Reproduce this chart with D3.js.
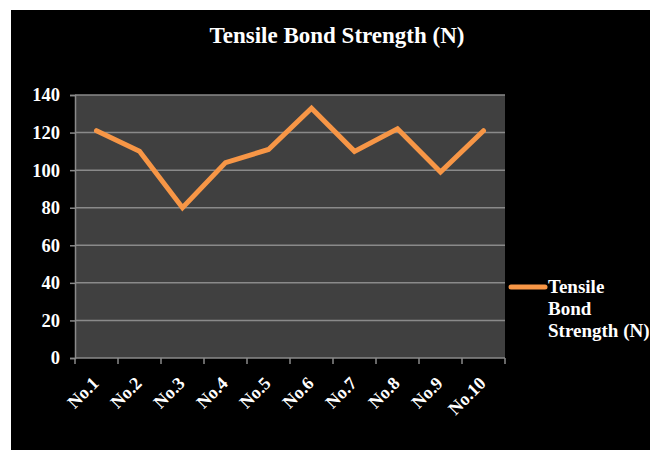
<!DOCTYPE html>
<html>
<head>
<meta charset="utf-8">
<script src="https://cdn.jsdelivr.net/npm/d3@7"></script>
<style>
    body { margin: 0; background: #ffffff; }
    text { font-family: "Liberation Serif", "Times New Roman", serif; font-weight: bold; fill: #ffffff; }
</style>
</head>
<body>
<div id="chart"></div>
<script>
// data
let categories = ["No.1", "No.2", "No.3", "No.4", "No.5", "No.6", "No.7", "No.8", "No.9", "No.10"];
let strengthValues = [121, 110, 80, 104, 111, 133, 110, 122, 99, 121];
let yTicks = [0, 20, 40, 60, 80, 100, 120, 140];
let seriesName = "Tensile Bond Strength (N)";

let margin = {top: 95, right: 145, bottom: 92, left: 75};
let totalW = 650, totalH = 450;
let width = totalW - margin.left - margin.right;
let height = totalH - margin.top - margin.bottom;

let svg = d3.select("#chart").append("svg")
    .attr("width", totalW)
    .attr("height", totalH);

// black chart area
svg.append("rect")
    .attr("x", 11).attr("y", 10)
    .attr("width", totalW - 11).attr("height", totalH - 10)
    .attr("fill", "#000000");

// title
svg.append("text")
    .attr("x", 337).attr("y", 43)
    .attr("text-anchor", "middle")
    .style("font-size", "23px")
    .text("Tensile Bond Strength  (N)");

let g = svg.append("g")
    .attr("transform", `translate(${margin.left},${margin.top})`);

// scales
let x = d3.scaleBand().domain(categories).range([0, width]);
let y = d3.scaleLinear().domain([0, 140]).range([height, 0]);

// plot background
g.append("rect")
    .attr("width", width).attr("height", height)
    .attr("fill", "#404040");

// gridlines
g.selectAll(".grid").data(yTicks.filter(d => d > 0))
    .enter().append("line")
    .attr("class", "grid")
    .attr("x1", 0).attr("x2", width)
    .attr("y1", d => y(d)).attr("y2", d => y(d))
    .attr("stroke", "#8a8a8a").attr("stroke-width", 1.5);

// y axis
let yAxis = g.append("g")
    .call(d3.axisLeft(y).tickValues(yTicks).tickSize(5).tickPadding(10));
yAxis.select(".domain").attr("stroke", "#8a8a8a").attr("stroke-width", 1.5);
yAxis.selectAll(".tick line").attr("stroke", "#8a8a8a").attr("stroke-width", 1.5);
yAxis.selectAll("text").style("font-size", "18.5px").attr("fill", "#ffffff");

// x axis (ticks at band boundaries)
let xAxisG = g.append("g").attr("transform", `translate(0,${height})`);
xAxisG.append("line")
    .attr("x1", 0).attr("x2", width)
    .attr("stroke", "#8a8a8a").attr("stroke-width", 1.5);
let bounds = categories.map(c => x(c)).concat([width]);
xAxisG.selectAll(".xtick").data(bounds)
    .enter().append("line")
    .attr("x1", d => d).attr("x2", d => d)
    .attr("y1", 0).attr("y2", 6)
    .attr("stroke", "#8a8a8a").attr("stroke-width", 1.5);
xAxisG.selectAll(".xlabel").data(categories)
    .enter().append("text")
    .attr("text-anchor", "end")
    .attr("transform", d => `translate(${x(d) + x.bandwidth() / 2 - 1},${22}) rotate(-45)`)
    .attr("dy", "0.35em")
    .style("font-size", "18px")
    .text(d => d);

// line
let line = d3.line()
    .x((d, i) => x(categories[i]) + x.bandwidth() / 2)
    .y(d => y(d));

g.append("path")
    .datum(strengthValues)
    .attr("d", line)
    .attr("fill", "none")
    .attr("stroke", "#F79646")
    .attr("stroke-width", 5)
    .attr("stroke-linejoin", "miter")
    .attr("stroke-linecap", "round");

// legend
let legend = svg.append("g").attr("transform", "translate(511,287)");
legend.append("line")
    .attr("x1", 0).attr("x2", 34)
    .attr("stroke", "#F79646").attr("stroke-width", 5)
    .attr("stroke-linecap", "round");
let legendText = legend.append("text")
    .attr("x", 37).attr("y", 6)
    .style("font-size", "19px");
["Tensile", "Bond", "Strength (N)"].forEach((w, i) => {
    legendText.append("tspan")
        .attr("x", 37).attr("dy", i === 0 ? 0 : 22)
        .text(w);
});
</script>
</body>
</html>
